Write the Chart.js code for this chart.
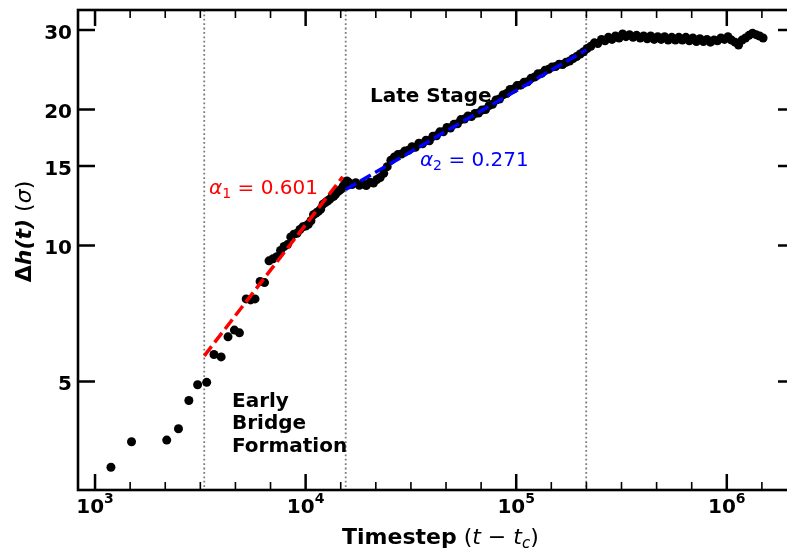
<!DOCTYPE html>
<html>
<head>
<meta charset="utf-8">
<script src="https://cdn.jsdelivr.net/npm/chart.js@4.4.1/dist/chart.umd.min.js"></script>
<style>
  html, body { margin: 0; padding: 0; background: #fff; overflow: hidden; }
</style>
</head>
<body>
<canvas id="growth-chart" width="800" height="550"></canvas>
<script>
// measured interface height vs timestep (log-log)
const timesteps = [
  1190, 1490, 2190, 2490, 2790, 3070, 3390, 3670, 3970, 4280, 4590, 4850, 5220, 5480, 5750, 6080, 6380,
  6700, 7000, 7300, 7600, 7900, 8200, 8500, 8800, 9100, 9400, 9700, 10000, 10300, 10600, 10900, 11200,
  11500, 11800, 12100, 12400, 12700, 13000, 13300, 13600, 13900, 14200, 14500, 14800, 15100, 15400, 15700,
  16000, 16600, 17300, 18000, 18700, 19400, 20200, 21000, 21800, 22600, 23500, 24400, 25400, 26400, 27400,
  28500, 29600, 30800, 32000, 33200, 34500, 35900, 37300, 38700, 40200, 41800, 43400, 45100, 46900, 48700,
  50600, 52600, 54600, 56800, 59000, 61300, 63700, 66200, 68800, 71500, 74300, 77200, 80200, 83300, 86600,
  90000, 93500, 97100, 100900, 104900, 109000, 113200, 117600, 122200, 127000, 132000, 137100, 142500,
  148000, 153800, 159800, 166100, 172600, 179300, 186300, 193600, 201200, 209000, 217200,
  226000, 235000, 244000, 254000, 264000, 274000, 285000, 296000, 308000, 320000, 332000, 345000, 359000,
  373000, 388000, 403000, 419000, 435000, 452000, 470000, 488000, 507000, 527000, 548000, 570000, 592000,
  615000, 639000, 664000, 690000, 717000, 745000, 774000, 805000, 836000, 869000, 903000, 938000, 975000,
  1013000, 1053000, 1094000, 1137000, 1181000, 1227000, 1275000, 1325000, 1377000, 1431000, 1487000
];
const heights = [
  3.23, 3.68, 3.71, 3.93, 4.54, 4.92, 4.98, 5.74, 5.67, 6.28, 6.50, 6.41, 7.62, 7.58, 7.62, 8.33, 8.28,
  9.25, 9.35, 9.45, 9.75, 9.95, 10.05, 10.45, 10.6, 10.65, 10.85, 11.0, 11.05, 11.15, 11.35, 11.7, 11.8,
  11.9, 12.05, 12.35, 12.45, 12.55, 12.65, 12.8, 12.85, 13.0, 13.15, 13.25, 13.35, 13.55, 13.7, 13.9,
  13.8, 13.65, 13.78, 13.6, 13.7, 13.58, 13.8, 13.75, 14.0, 14.15, 14.45, 14.95, 15.45, 15.7, 15.9,
  15.95, 16.2, 16.25, 16.55, 16.5, 16.85, 16.8, 17.1, 17.05, 17.45, 17.5, 17.85, 17.85, 18.25, 18.2,
  18.55, 18.6, 19.0, 19.05, 19.35, 19.3, 19.6, 19.65, 19.95, 20.0, 20.4, 20.55, 21.0, 21.1, 21.55,
  21.7, 22.15, 22.2, 22.6, 22.65, 23.0, 23.05, 23.45, 23.6, 24.0, 24.05, 24.45, 24.55,
  24.85, 24.9, 25.2, 25.15, 25.45, 25.6, 25.95, 26.2, 26.55, 26.85, 27.3,
  27.6, 28.1, 28.0, 28.6, 28.4, 28.9, 28.6, 29.1, 28.8, 29.4, 29.0, 29.3, 28.9,
  29.2, 28.8, 29.1, 28.7, 29.1, 28.6, 29.0, 28.6, 29.0, 28.5, 28.9, 28.5, 28.9,
  28.5, 28.9, 28.4, 28.8, 28.3, 28.7, 28.3, 28.6, 28.2, 28.5, 28.4, 28.8, 28.6,
  29.0, 28.5, 28.2, 27.8, 28.5, 28.8, 29.2, 29.5, 29.3, 29.1, 28.8
];

// power-law fits (end points)
const fit1T = [3300, 15000];
const fit1H = [5.7, 14.2];
const fit2T = [15500, 215000];
const fit2H = [13.3, 27.1];

// stage boundaries
const stageBounds = [3300, 15500, 215000];

// tick labels
const xTickValues = [1e3, 1e4, 1e5, 1e6];
const xTickExp = ["3", "4", "5", "6"];
const yTickValues = [5, 10, 15, 20, 30];

const FONT = '"DejaVu Sans", sans-serif';

function drawPieces(ctx, pieces, x, y, align) {
  let w = 0;
  pieces.forEach(p => { ctx.font = p.font; w += ctx.measureText(p.text).width; });
  let cx = align === "center" ? x - w / 2 : x;
  ctx.textAlign = "left";
  ctx.textBaseline = "alphabetic";
  pieces.forEach(p => {
    ctx.font = p.font;
    ctx.fillText(p.text, cx, y + (p.dy || 0));
    cx += ctx.measureText(p.text).width;
  });
}

const framePlugin = {
  id: "frame",
  beforeDatasetsDraw(chart) {
    const { ctx, chartArea: a, scales: { x } } = chart;
    ctx.save();
    ctx.strokeStyle = "#7a7a7a";
    ctx.lineWidth = 1.8;
    ctx.setLineDash([1.8, 2.6]);
    stageBounds.forEach(t => {
      const px = x.getPixelForValue(t);
      ctx.beginPath();
      ctx.moveTo(px, a.top);
      ctx.lineTo(px, a.bottom);
      ctx.stroke();
    });
    ctx.restore();
  },
  afterDraw(chart) {
    const { ctx, chartArea: a, scales: { x, y } } = chart;
    ctx.save();
    ctx.strokeStyle = "#000";
    ctx.fillStyle = "#000";

    // x ticks (major at decades, 5 minor between)
    for (let n = 2; n <= 6; n++) {
      for (let k = 0; k < 6; k++) {
        const v = Math.pow(10, n + k / 6);
        const px = x.getPixelForValue(v);
        if (px < a.left + 1 || px > a.right - 1) continue;
        const len = k === 0 ? 16 : 8;
        ctx.lineWidth = k === 0 ? 2.5 : 1.6;
        ctx.beginPath();
        ctx.moveTo(px, a.bottom); ctx.lineTo(px, a.bottom - len);
        ctx.moveTo(px, a.top); ctx.lineTo(px, a.top + len);
        ctx.stroke();
      }
    }
    // y ticks
    ctx.lineWidth = 2.5;
    yTickValues.forEach(v => {
      const py = y.getPixelForValue(v);
      ctx.beginPath();
      ctx.moveTo(a.left, py); ctx.lineTo(a.left + 17, py);
      ctx.moveTo(a.right, py); ctx.lineTo(a.right - 17, py);
      ctx.stroke();
    });

    // spines
    ctx.lineWidth = 2.6;
    ctx.strokeRect(a.left, a.top, a.right - a.left, a.bottom - a.top);

    // tick labels
    xTickValues.forEach((v, i) => {
      drawPieces(ctx, [
        { text: "10", font: "bold 20px " + FONT },
        { text: xTickExp[i], font: "bold 14px " + FONT, dy: -10 }
      ], x.getPixelForValue(v), 513, "center");
    });
    ctx.font = "bold 20px " + FONT;
    ctx.textAlign = "right";
    ctx.textBaseline = "alphabetic";
    yTickValues.forEach(v => {
      ctx.fillText(String(v), 72, y.getPixelForValue(v) + 8.5);
    });

    // axis titles
    drawPieces(ctx, [
      { text: "Timestep", font: "bold 22px " + FONT },
      { text: " (", font: "22px " + FONT },
      { text: "t", font: "italic 22px " + FONT },
      { text: " \u2212 ", font: "22px " + FONT },
      { text: "t", font: "italic 22px " + FONT },
      { text: "c", font: "italic 15px " + FONT, dy: 4 },
      { text: ")", font: "22px " + FONT }
    ], 342, 544, "left");

    ctx.save();
    ctx.translate(31, 231.5);
    ctx.rotate(-Math.PI / 2);
    drawPieces(ctx, [
      { text: "\u0394", font: "bold 22px " + FONT },
      { text: "h(t)", font: "italic bold 22px " + FONT },
      { text: " (", font: "22px " + FONT },
      { text: "\u03c3", font: "italic 22px " + FONT },
      { text: ")", font: "22px " + FONT }
    ], 0, 0, "center");
    ctx.restore();

    // annotations
    ctx.fillStyle = "#000";
    ctx.font = "bold 20px " + FONT;
    ctx.textAlign = "left";
    ctx.fillText("Late Stage", x.getPixelForValue(20200), y.getPixelForValue(20.8));
    const ex = x.getPixelForValue(4470);
    const ey = y.getPixelForValue(4.40);
    ["Early", "Bridge", "Formation"].forEach((s, i) => ctx.fillText(s, ex, ey + i * 22.5));

    ctx.fillStyle = "#ff0000";
    drawPieces(ctx, [
      { text: "\u03b1", font: "italic 20px " + FONT },
      { text: "1", font: "14px " + FONT, dy: 4 },
      { text: " = 0.601", font: "20px " + FONT }
    ], x.getPixelForValue(3480), y.getPixelForValue(12.99), "left");
    ctx.fillStyle = "#0000ff";
    drawPieces(ctx, [
      { text: "\u03b1", font: "italic 20px " + FONT },
      { text: "2", font: "14px " + FONT, dy: 4 },
      { text: " = 0.271", font: "20px " + FONT }
    ], x.getPixelForValue(34900), y.getPixelForValue(15.0), "left");

    ctx.restore();
  }
};

const points = timesteps.map((t, i) => ({ x: t, y: heights[i] }));

new Chart(document.getElementById("growth-chart"), {
  type: "scatter",
  data: {
    datasets: [
      {
        label: "fit early",
        data: fit1T.map((t, i) => ({ x: t, y: fit1H[i] })),
        showLine: true,
        borderColor: "#ff0000",
        borderWidth: 3.5,
        borderDash: [12, 5],
        pointRadius: 0,
        order: 1,
      },
      {
        label: "fit late",
        data: fit2T.map((t, i) => ({ x: t, y: fit2H[i] })),
        showLine: true,
        borderColor: "#0000ff",
        borderWidth: 3.5,
        borderDash: [12, 5],
        pointRadius: 0,
        order: 2,
      },
      {
        label: "data",
        data: points,
        backgroundColor: "#000",
        borderWidth: 0,
        pointRadius: 4.5,
        order: 3,
      },
    ],
  },
  options: {
    responsive: false,
    animation: false,
    layout: { padding: { top: 10, right: 5, left: 0, bottom: 0 } },
    plugins: { legend: { display: false }, tooltip: { enabled: false } },
    scales: {
      x: {
        type: "logarithmic",
        min: 830,
        max: 2.108e6,
        grid: { display: false },
        border: { display: false },
        ticks: { display: false },
        afterFit: (s) => { s.height = 60; },
      },
      y: {
        type: "logarithmic",
        min: 2.877,
        max: 33.22,
        grid: { display: false },
        border: { display: false },
        ticks: { display: false },
        afterFit: (s) => { s.width = 78; },
      },
    },
  },
  plugins: [framePlugin],
});
</script>
</body>
</html>
